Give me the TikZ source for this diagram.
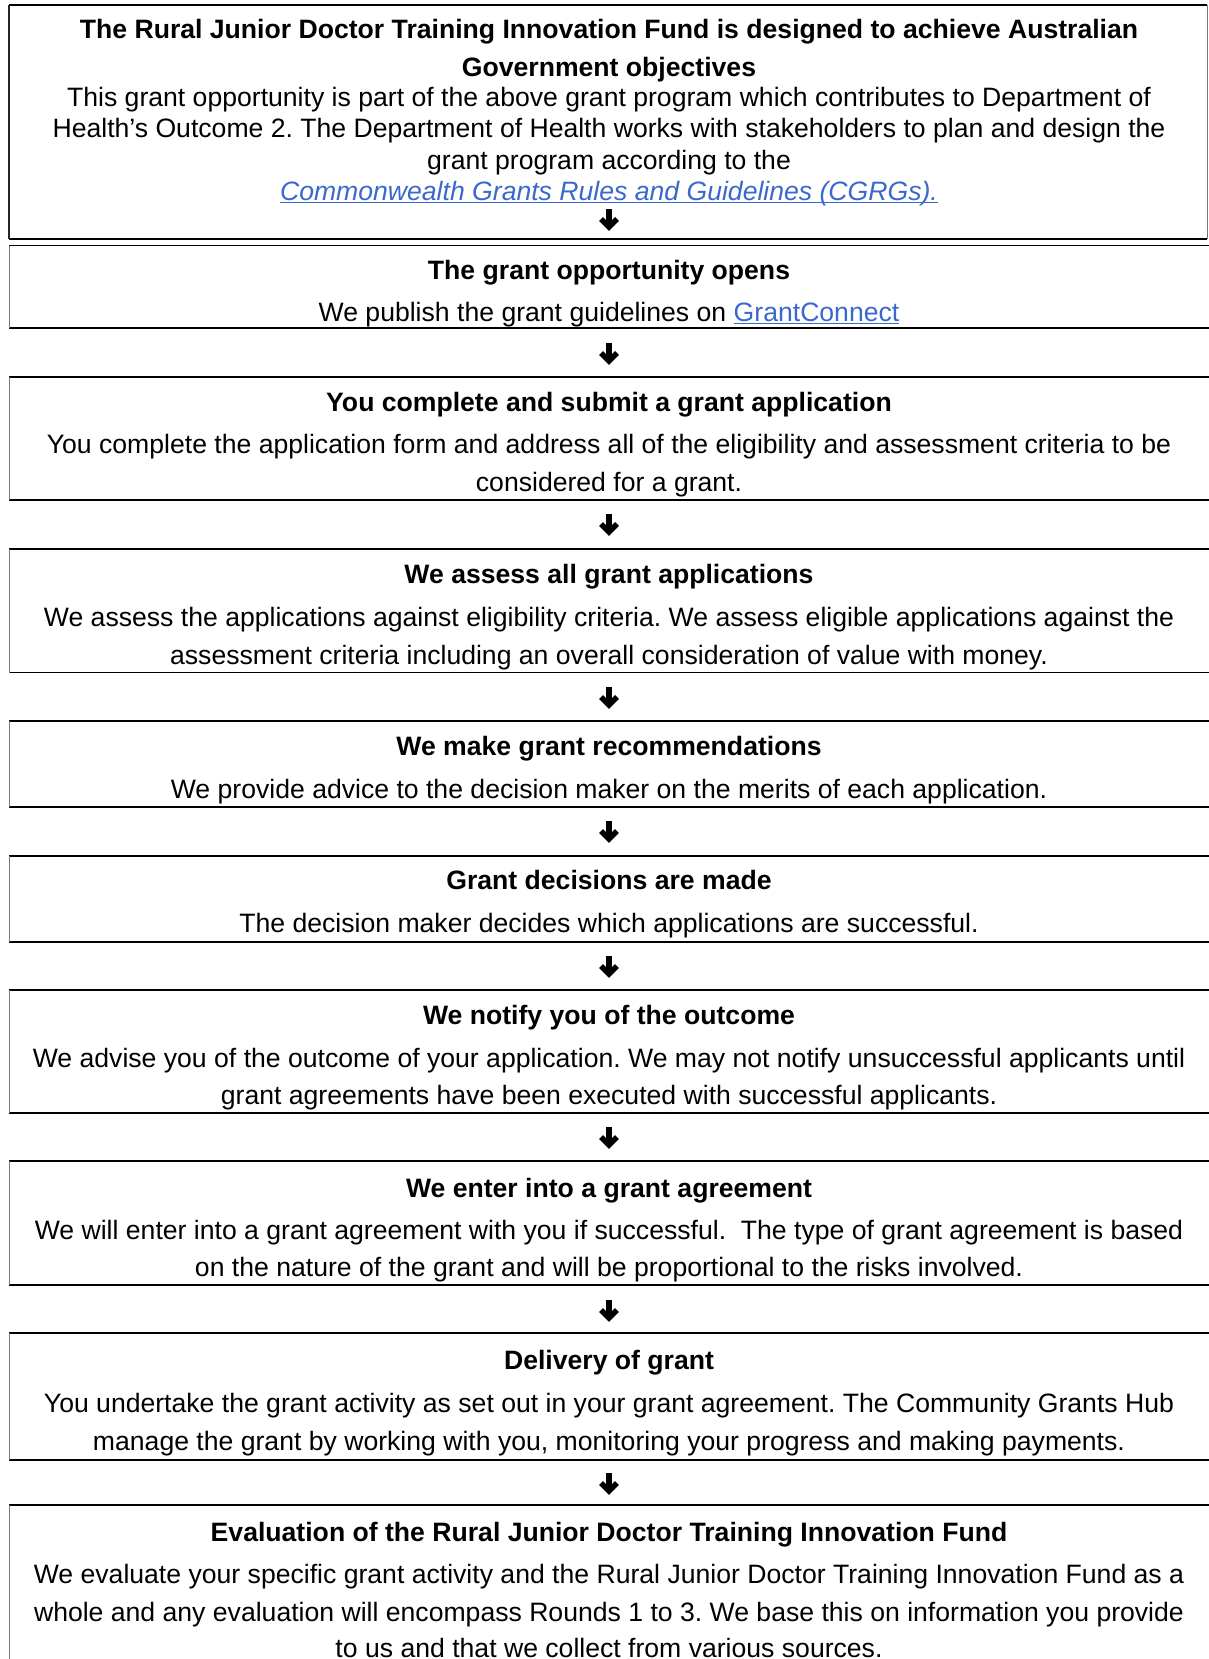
\documentclass[tikz,border=0pt]{standalone}
\usepackage{fontspec}
\setmainfont{Liberation Sans}
\frenchspacing
\newsavebox{\myulbox}
\newcommand{\myulink}[1]{\sbox{\myulbox}{#1}\rlap{\rule[-3.4pt]{\wd\myulbox}{1.3pt}}\usebox{\myulbox}}
\definecolor{linkblue}{RGB}{58,104,206}
\definecolor{edgegray}{RGB}{120,120,120}
\begin{document}
\frenchspacing
\begin{tikzpicture}[x=1pt,y=-1pt,
  font=\fontsize{26.6}{38}\selectfont,
  box/.style={rectangle, minimum width=1202pt, anchor=north west, inner sep=0pt, outer sep=0pt},
  ttl/.style={font=\fontsize{26.6}{38}\selectfont\bfseries, anchor=base, inner sep=0pt},
  txt/.style={anchor=base, inner sep=0pt},
  hedge/.style={line width=1.3pt, black},
  thickedge/.style={line width=2.3pt, black},
  vedge/.style={line width=1pt, edgegray},
  downarrow/.pic={
    \draw[line width=5.4pt, black] (0,-11) -- (0,3);
    \draw[line width=5.4pt, black, miter limit=10] (-8,-1) -- (0,7) -- (8,-1);
  }]
\useasboundingbox (0,0) rectangle (1208,1659);
\fill[white] (0,0) rectangle (1208,1659);

% boxes
\node[box, minimum width=1198pt, minimum height=234pt] (b1) at (9,5) {};
\node[box, minimum height=82.5pt] (b2) at (9,245.5) {};
\node[box, minimum height=123pt] (b3) at (9,377) {};
\node[box, minimum height=123.5pt] (b4) at (9,549) {};
\node[box, minimum height=86pt] (b5) at (9,721) {};
\node[box, minimum height=86pt] (b6) at (9,856) {};
\node[box, minimum height=123pt] (b7) at (9,990) {};
\node[box, minimum height=124pt] (b8) at (9,1161) {};
\node[box, minimum height=127pt] (b9) at (9,1333) {};
\node[box, minimum height=200pt] (b10) at (9,1505) {};

% borders
\draw[thickedge] (b1.north west) -- (b1.north east);
\draw[thickedge] (b1.south west) -- (b1.south east);
\draw[line width=1.4pt, black!85] (b1.north west) -- (b1.south west);
\draw[vedge] (b1.north east) -- (b1.south east);
\foreach \i in {2,...,10} {
  \draw[hedge] (b\i.north west) -- (b\i.north east);
  \draw[hedge] (b\i.south west) -- (b\i.south east);
  \draw[vedge] (b\i.north west) -- (b\i.south west);
}

% box 1
\node[ttl] (t1a) at (609,39) {The Rural Junior Doctor Training Innovation Fund is designed to achieve Australian};
\node[ttl] (t1b) at (609,77) {Government objectives};
\node[txt] (d1a) at (609,107) {This grant opportunity is part of the above grant program which contributes to Department of};
\node[txt] (d1b) at (609,138) {Health’s Outcome 2. The Department of Health works with stakeholders to plan and design the};
\node[txt] (d1c) at (609,169) {grant program according to the};
\node[txt, text=linkblue] (d1d) at (609,200) {\itshape\myulink{Commonwealth Grants Rules and Guidelines (CGRGs).}};

% box 2
\node[ttl] (t2) at (609,279) {The grant opportunity opens};
\node[txt] (d2) at (609,321) {We publish the grant guidelines on \textcolor{linkblue}{\myulink{GrantConnect}}};

% box 3
\node[ttl] (t3) at (609,411.5) {You complete and submit a grant application};
\node[txt] (d3a) at (609,453.5) {You complete the application form and address all of the eligibility and assessment criteria to be};
\node[txt] (d3b) at (609,491.5) {considered for a grant.};

% box 4
\node[ttl] (t4) at (609,583.5) {We assess all grant applications};
\node[txt] (d4a) at (609,626.5) {We assess the applications against eligibility criteria. We assess eligible applications against the};
\node[txt] (d4b) at (609,664) {assessment criteria including an overall consideration of value with money.};

% box 5
\node[ttl] (t5) at (609,755.5) {We make grant recommendations};
\node[txt] (d5) at (609,798.5) {We provide advice to the decision maker on the merits of each application.};

% box 6
\node[ttl] (t6) at (609,889.5) {Grant decisions are made};
\node[txt] (d6) at (609,932.5) {The decision maker decides which applications are successful.};

% box 7
\node[ttl] (t7) at (609,1024.5) {We notify you of the outcome};
\node[txt] (d7a) at (609,1067.5) {We advise you of the outcome of your application. We may not notify unsuccessful applicants until};
\node[txt] (d7b) at (609,1104.5) {grant agreements have been executed with successful applicants.};

% box 8
\node[ttl] (t8) at (609,1197.5) {We enter into a grant agreement};
\node[txt] (d8a) at (609,1239.5) {We will enter into a grant agreement with you if successful.\ \ The type of grant agreement is based};
\node[txt] (d8b) at (609,1276.5) {on the nature of the grant and will be proportional to the risks involved.};

% box 9
\node[ttl] (t9) at (609,1369.5) {Delivery of grant};
\node[txt] (d9a) at (609,1412.5) {You undertake the grant activity as set out in your grant agreement. The Community Grants Hub};
\node[txt] (d9b) at (609,1450) {manage the grant by working with you, monitoring your progress and making payments.};

% box 10
\node[ttl] (t10) at (609,1541.5) {Evaluation of the Rural Junior Doctor Training Innovation Fund};
\node[txt] (d10a) at (609,1583.5) {We evaluate your specific grant activity and the Rural Junior Doctor Training Innovation Fund as a};
\node[txt] (d10b) at (609,1621) {whole and any evaluation will encompass Rounds 1 to 3. We base this on information you provide};
\node[txt] (d10c) at (609,1657) {to us and that we collect from various sources.};

% arrows
\coordinate (a1) at (609,220);
\coordinate (a2) at (609,354);
\coordinate (a3) at (609,525);
\coordinate (a4) at (609,698);
\coordinate (a5) at (609,832);
\coordinate (a6) at (609,967);
\coordinate (a7) at (609,1138);
\coordinate (a8) at (609,1311);
\coordinate (a9) at (609,1484);
\foreach \k in {1,...,9} { \pic at (a\k) {downarrow}; }
\end{tikzpicture}
\end{document}
